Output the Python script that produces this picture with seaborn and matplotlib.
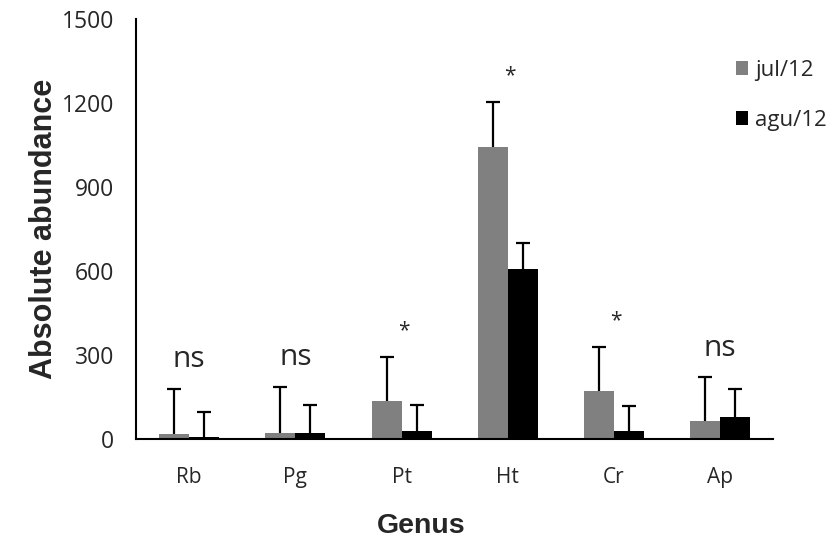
import numpy as np
import pandas as pd
import matplotlib
matplotlib.use("Agg")
import matplotlib.pyplot as plt
import seaborn as sns
from matplotlib.ticker import FixedLocator

genus = ["Rb", "Pg", "Pt", "Ht", "Cr", "Ap"]
months = ["jul/12", "agu/12"]
jul_mean = [18, 22, 137, 1044, 173, 65]
agu_mean = [8, 22, 30, 608, 30, 80]
jul_sd = [160, 163, 156, 158, 154, 155]
agu_sd = [90, 99, 91, 93, 89, 97]
signif = ["ns", "ns", "*", "*", "*", "ns"]

df = pd.DataFrame({
    "genus": genus * 2,
    "month": [months[0]] * len(genus) + [months[1]] * len(genus),
    "abundance": jul_mean + agu_mean,
    "sd": jul_sd + agu_sd,
})

sns.set_style("white")
plt.rcParams["font.family"] = ["Liberation Sans", "DejaVu Sans"]
tick_font = ["Open Sans", "DejaVu Sans"]

fig = plt.figure(figsize=(8.35, 5.38), dpi=100)
ax = fig.add_axes([0.163, 0.184, 0.763, 0.781])

sns.barplot(data=df, x="genus", y="abundance", hue="month", order=genus,
            hue_order=months, palette=["#808080", "#000000"], width=0.566,
            errorbar=None, saturation=1, linewidth=0, ax=ax)

# error bars, upper half only (stem + top cap)
for cont, m in zip(ax.containers, months):
    sub = df[df["month"] == m].set_index("genus").loc[genus]
    xs = np.array([p.get_x() + p.get_width() / 2 for p in cont.patches])
    tops = sub["abundance"].values + sub["sd"].values
    ax.vlines(xs, sub["abundance"].values, tops, color="black", lw=1.6, zorder=3)
    ax.plot(xs, tops, ls="none", marker="_", ms=9.5, mew=1.6, color="black", zorder=3)

# significance labels
for i, s in enumerate(signif):
    top = max(jul_mean[i] + jul_sd[i], agu_mean[i] + agu_sd[i])
    if s == "ns":
        ax.text(i, top + 78, s, ha="center", va="baseline", fontsize=21.5,
                family=tick_font)
    else:
        ax.text(i + 0.02, top + 95, s, ha="center", va="center", fontsize=15,
                family=tick_font)

ax.set_ylim(0, 1500)
ax.set_xlim(-0.5, 5.5)
ax.set_yticks([0, 300, 600, 900, 1200, 1500])
ax.xaxis.set_minor_locator(FixedLocator(np.arange(-0.5, 6, 1)))
ax.tick_params(axis="x", which="major", length=0, pad=20, labelsize=15)
ax.tick_params(axis="x", which="minor", length=6, width=1.5, direction="out", color="black")
ax.tick_params(axis="y", length=6, width=1.5, direction="out", color="black",
               labelsize=16.5, pad=10)
for lab in ax.get_xticklabels() + ax.get_yticklabels():
    lab.set_family(tick_font)

sns.despine(ax=ax)
for sp in ["left", "bottom"]:
    ax.spines[sp].set_color("black")
    ax.spines[sp].set_linewidth(1.5)

ax.set_xlabel("Genus", fontsize=20.5, fontweight="bold")
ax.xaxis.set_label_coords(0.447, -0.175)
ax.set_ylabel("Absolute abundance", fontsize=22, fontweight="bold", labelpad=2)

leg = ax.legend(loc="upper left", bbox_to_anchor=(0.91, 0.95), frameon=False,
                fontsize=16, labelspacing=1.3, handlelength=0.55, handleheight=0.55,
                handletextpad=0.3)
for t in leg.get_texts():
    t.set_family(tick_font)

fig.savefig("out.png", dpi=100)
